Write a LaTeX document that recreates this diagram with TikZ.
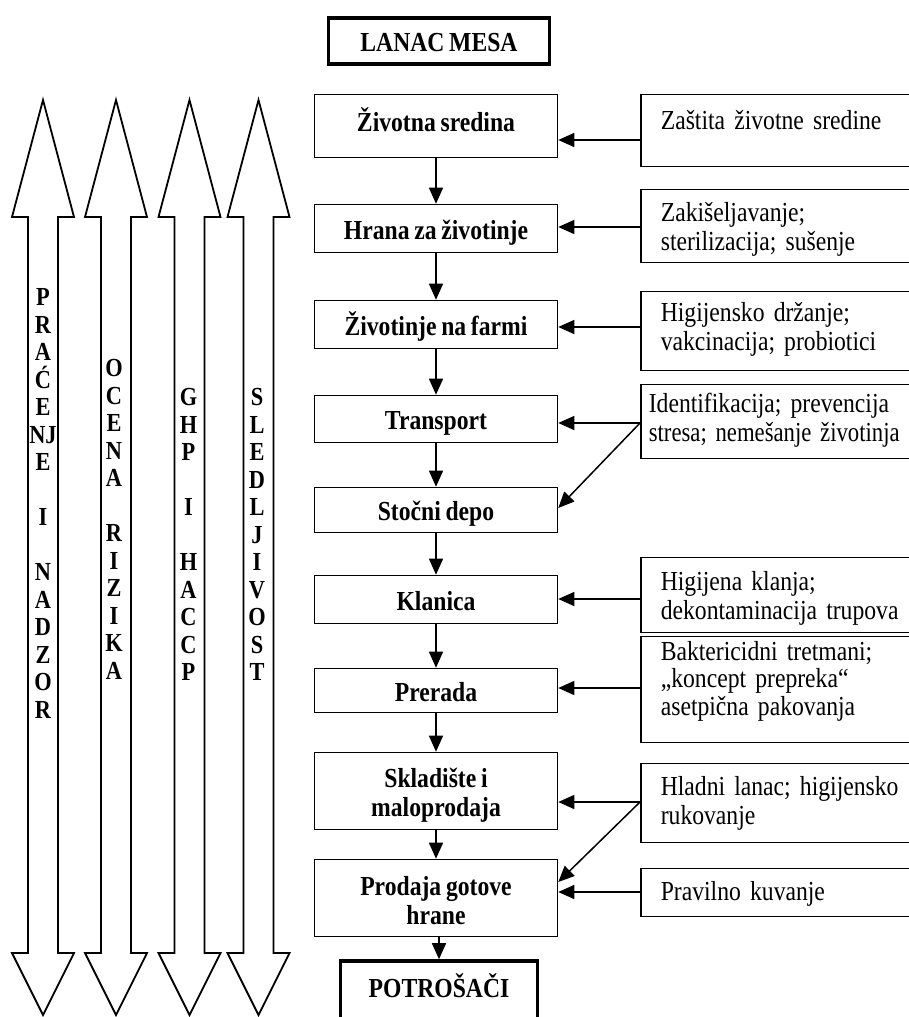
\documentclass[tikz,border=0pt]{standalone}
\usepackage{fontspec}
\setmainfont{Liberation Serif}[FakeStretch=0.86, WordSpace=0.8]
\usetikzlibrary{arrows.meta}
\begin{document}
\begin{tikzpicture}[x=1pt,y=-1pt,
  chainbox/.style={draw, line width=1.6pt, minimum width=243pt, inner sep=0pt,
    align=center, text height=23pt, text depth=2pt,
    font=\fontsize{27.5}{29}\selectfont\bfseries},
  endbox/.style={draw, line width=3.6pt, inner sep=0pt, align=center,
    text height=23pt, font=\fontsize{27.5}{29}\selectfont\bfseries},
  measure/.style={draw, line width=1.6pt, anchor=west, inner xsep=20pt, inner ysep=0pt,
    text width=300pt, align=left, text height=23pt,
    font=\fontsize{27.5}{29}\selectfont},
  link/.style={line width=1.5pt, -{Triangle[length=16pt,width=14pt]}},
  band/.style={draw, line width=1.8pt, fill=white, line join=miter},
  bandtext/.style={align=center, inner sep=0pt, font=\fontsize{26}{27.5}\selectfont\bfseries}
]
\clip (0,0) rectangle (909,1017);
\fill[white] (0,0) rectangle (909,1017);

% four long double-headed block arrows on the left
\foreach \cx in {43,116,189.5,258.5}{
  \draw[band] (\cx,100) -- (\cx+31,217) -- (\cx+15,217) -- (\cx+15,953) -- (\cx+31,953)
    -- (\cx,1015) -- (\cx-31,953) -- (\cx-15,953) -- (\cx-15,217) -- (\cx-31,217) -- cycle;
}
\node[bandtext] (b1) at (43,503.5)
  {P\\R\\A\\Ć\\E\\NJ\\E\\\mbox{}\\I\\\mbox{}\\N\\A\\D\\Z\\O\\R};
\node[bandtext] (b2) at (114,519.5)
  {O\\C\\E\\N\\A\\\mbox{}\\R\\I\\Z\\I\\K\\A};
\node[bandtext] (b3) at (188.5,534.5)
  {G\\H\\P\\\mbox{}\\I\\\mbox{}\\H\\A\\C\\C\\P};
\node[bandtext] (b4) at (257,534.5)
  {S\\L\\E\\D\\L\\J\\I\\V\\O\\S\\T};

% title and the chain itself
\node[endbox, minimum width=221pt, minimum height=46pt, text depth=3pt] (title) at (439,41) {LANAC MESA};

\node[chainbox, minimum height=63pt, text depth=13pt] (c1) at (436,126) {Životna sredina};
\node[chainbox, minimum height=48pt] (c2) at (436,228.5) {Hrana za životinje};
\node[chainbox, minimum height=48pt] (c3) at (436,324.5) {Životinje na farmi};
\node[chainbox, minimum height=47pt] (c4) at (436,419) {Transport};
\node[chainbox, minimum height=45pt] (c5) at (436,510) {Stočni depo};
\node[chainbox, minimum height=48pt] (c6) at (436,599.5) {Klanica};
\node[chainbox, minimum height=44pt] (c7) at (436,690.5) {Prerada};
\node[chainbox, minimum height=77pt, text height=52pt, text depth=2pt] (c8) at (436,791) {Skladište i\\maloprodaja};
\node[chainbox, minimum height=77pt, text height=52pt, text depth=0pt] (c9) at (436,898) {Prodaja gotove\\hrane};
\node[endbox, minimum width=197pt, minimum height=72pt, text depth=23pt] (pot) at (439,997) {POTROŠAČI};

\draw[link] (c1) -- (c2);
\draw[link] (c2) -- (c3);
\draw[link] (c3) -- (c4);
\draw[link] (c4) -- (c5);
\draw[link] (c5) -- (c6);
\draw[link] (c6) -- (c7);
\draw[link] (c7) -- (c8);
\draw[link] (c8) -- (c9);
\draw[link] (pot.north |- c9.south) -- (pot.north);

% measures applied at each stage
\node[measure, minimum height=72pt, text depth=26pt] (r1) at (640,130.5) {Zaštita životne sredine};
\node[measure, minimum height=73pt, text depth=33pt] (r2) at (640,226) {Zakišeljavanje;\\sterilizacija; sušenje};
\node[measure, minimum height=79pt, text depth=43pt] (r3) at (640,331) {Higijensko držanje;\\vakcinacija; probiotici};
\node[measure, minimum height=74pt, text depth=42pt, inner xsep=8pt] (r4) at (640,421.5) {Identifikacija; prevencija\\\scalebox{0.96}[1]{stresa; nemešanje životinja}};
\node[measure, minimum height=75pt, text depth=33pt] (r5) at (640,595) {Higijena klanja;\\dekontaminacija trupova};
\node[measure, minimum height=106pt, text depth=82pt, font=\fontsize{27.5}{27.5}\selectfont] (r6) at (640,689.5) {Baktericidni tretmani;\\„koncept prepreka“\\asetpična pakovanja};
\node[measure, minimum height=79pt, text depth=39pt] (r7) at (640,803) {Hladni lanac; higijensko\\rukovanje};
\node[measure, minimum height=48pt, text depth=8pt] (r8) at (640,892.5) {Pravilno kuvanje};

\draw[link] (r1.west |- 0,140) -- (c1.east |- 0,140);
\draw[link] (r2.west |- 0,227) -- (c2.east |- 0,227);
\draw[link] (r3.west |- 0,327) -- (c3.east |- 0,327);
\draw[link] (r4.west |- 0,423) -- (c4.east |- 0,423);
\draw[link] (r4.west |- 0,423) -- (c5.east |- 0,508);
\draw[link] (r5.west |- 0,599) -- (c6.east |- 0,599);
\draw[link] (r6.west |- 0,688) -- (c7.east |- 0,688);
\draw[link] (r7.west |- 0,802) -- (c8.east |- 0,802);
\draw[link] (r7.west |- 0,802) -- (c9.east |- 0,882);
\draw[link] (r8.west |- 0,892) -- (c9.east |- 0,892);
\end{tikzpicture}
\end{document}
